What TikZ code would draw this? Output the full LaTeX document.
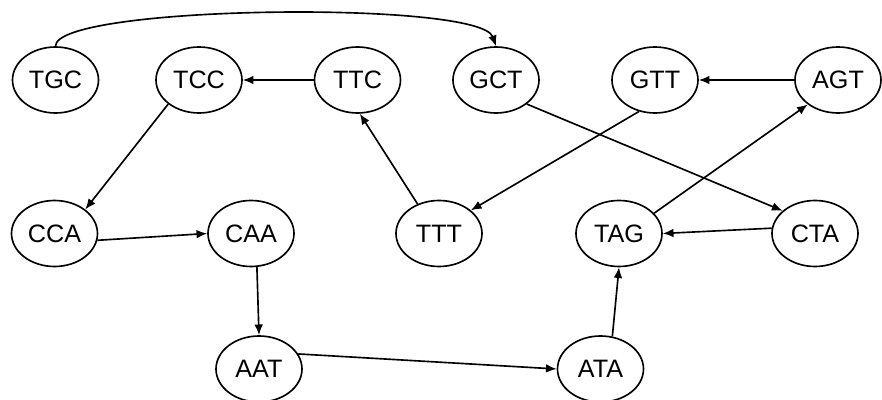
\documentclass[tikz,border=0pt]{standalone}
\usepackage{fontspec}
\setmainfont{Liberation Sans}
\usetikzlibrary{arrows.meta}
\usetikzlibrary{shapes.geometric}
\tikzset {
  % k-mer node
  kmer/.style = {
    draw = black,
    ellipse,
    line width = 1.4pt,
    minimum width = 2.58cm,
    minimum height = 1.98cm,
    inner sep = 0,
    font = \fontsize{21.5}{25}\selectfont
  },
  % overlap edge
  arr/.style = {
    draw = black,
    line width = 1.4pt,
    -{Latex[length = 3.2mm, width = 2.6mm]}
  }
}

\begin{document}
\begin{tikzpicture}[x = 0.03cm, y = -0.03cm]
    \useasboundingbox (0, 0) rectangle (882, 400);

    \node[kmer] at (55.5, 80) (tgc) {TGC};
    \node[kmer] at (199, 80) (tcc) {TCC};
    \node[kmer] at (357.5, 80) (ttc) {TTC};
    \node[kmer] at (496, 80) (gct) {GCT};
    \node[kmer] at (655, 80) (gtt) {GTT};
    \node[kmer] at (838, 80) (agt) {AGT};
    \node[kmer] at (54.5, 233.5) (cca) {CCA};
    \node[kmer] at (251, 233.5) (caa) {CAA};
    \node[kmer] at (439, 233.5) (ttt) {TTT};
    \node[kmer] at (619, 233.5) (tag) {TAG};
    \node[kmer] at (815, 233.5) (cta) {CTA};
    \node[kmer] at (259, 369) (aat) {AAT};
    \node[kmer] at (600.5, 369) (ata) {ATA};

    \draw[arr] (tgc.north)
    .. controls (55, 5) and (480, 0) ..
    (gct.north);
    \draw[arr] (ttc) -- (tcc);
    \draw[arr] (tcc.218) -- (cca.38);
    \draw[arr] (ttt.126) -- (ttc.274);
    \draw[arr] (gtt.243) -- (ttt.36);
    \draw[arr] (gct.322) -- (cta.145);
    \draw[arr] (tag.30) -- (agt.219);
    \draw[arr] (agt) -- (gtt);
    \draw[arr] (cta.173) -- (tag.east);
    \draw[arr] (cca.351) -- (caa.west);
    \draw[arr] (caa.280) -- (aat.north);
    \draw[arr] (aat.21) -- (ata.west);
    \draw[arr] (ata.70) -- (tag.south);
  \end{tikzpicture}
\end{document}
